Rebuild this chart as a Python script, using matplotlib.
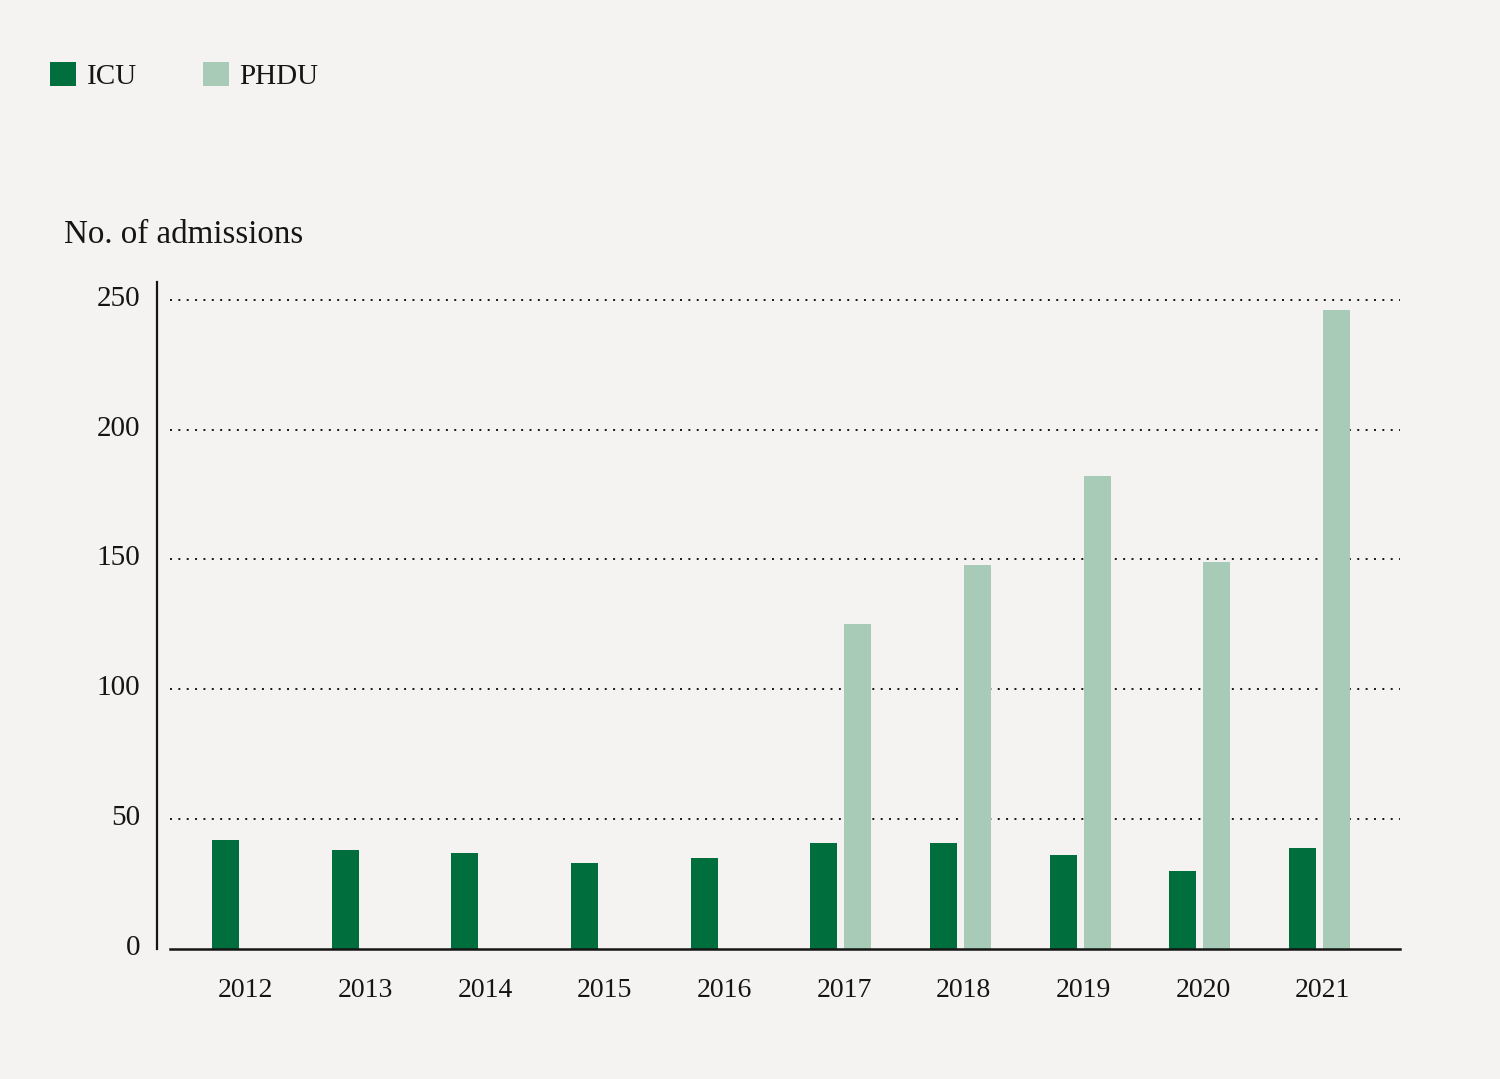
import matplotlib
matplotlib.use("Agg")
import matplotlib.pyplot as plt
import matplotlib.transforms as mtransforms
import numpy as np

# --- data ---
years = ["2012", "2013", "2014", "2015", "2016", "2017", "2018", "2019", "2020", "2021"]
icu = [42, 38, 37, 33, 35, 41, 41, 36, 30, 39]
phdu = [0, 0, 0, 0, 0, 125, 148, 182, 149, 246]
y_ticks = [0, 50, 100, 150, 200, 250]

bg = "#f4f3f1"
icu_col = "#006e3d"
phdu_col = "#a8cbb7"
ink = "#151515"

plt.rcParams["font.family"] = ["Liberation Serif", "DejaVu Serif"]

fig = plt.figure(figsize=(15, 10.79), dpi=100, facecolor=bg)
W, H = 1500, 1079
ax = fig.add_axes([170 / W, 1 - 949 / H, 1230 / W, (949 - 282) / H])
ax.set_facecolor(bg)

x = np.arange(len(years))
bw = 0.225
icu_bars = ax.bar(x - 0.14, icu, width=bw, color=icu_col, label="ICU", zorder=3)
# PHDU only from 2017 on
mask = np.array(phdu) > 0
phdu_bars = ax.bar(x[mask] + 0.144, np.array(phdu)[mask], width=bw, color=phdu_col,
                   label="PHDU", zorder=3)

ax.set_xlim(-0.604, 9.674)
ax.set_ylim(0, 256.8)

# --- gridlines ---
for t in y_ticks[1:]:
    ax.axhline(t, color=ink, linestyle=(0, (1, 3.3)), linewidth=1.4, zorder=1)

# --- spines ---
for s in ["top", "right"]:
    ax.spines[s].set_visible(False)
ax.spines["left"].set_position(("outward", 9.4))
ax.spines["left"].set_linewidth(1.6)
ax.spines["left"].set_color(ink)
ax.spines["bottom"].set_linewidth(1.8)
ax.spines["bottom"].set_color(ink)
ax.spines["bottom"].set_zorder(4)

# --- ticks ---
ax.set_xticks(x + 0.028)
ax.set_xticklabels(years, fontsize=20, color=ink)
ax.set_yticks(y_ticks)
ax.set_yticklabels([str(t) for t in y_ticks], fontsize=21, color=ink)
ax.tick_params(axis="both", length=0)
ax.tick_params(axis="x", pad=21)
ax.tick_params(axis="y", pad=12)
shift = mtransforms.ScaledTranslation(0, 4 / 100, fig.dpi_scale_trans)
for lab in ax.get_yticklabels():
    lab.set_transform(lab.get_transform() + shift)

# --- axis title ---
fig.text(64 / W, 1 - 243 / H, "No. of admissions", fontsize=23.8, color=ink,
         ha="left", va="baseline")

# --- legend ---
fig.legend(handles=[icu_bars, phdu_bars], labels=["ICU", "PHDU"], ncol=2,
           loc="upper left", bbox_to_anchor=(50 / W, 1 - 62 / H),
           frameon=False, fontsize=21, handlelength=0.9, handleheight=0.9,
           handletextpad=0.36, columnspacing=2.25, borderpad=0, borderaxespad=0,
           labelcolor=ink)

fig.savefig("out.png", dpi=100, facecolor=bg)
